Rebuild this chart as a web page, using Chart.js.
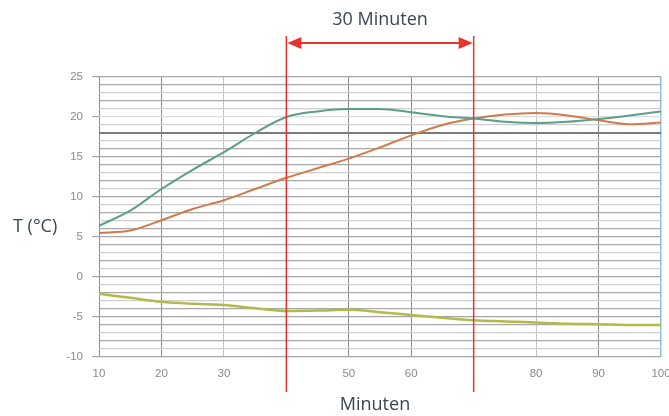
<!DOCTYPE html>
<html>
<head>
<meta charset="utf-8">
<script src="https://cdn.jsdelivr.net/npm/chart.js@4/dist/chart.umd.min.js"></script>
<style>
  html, body { margin: 0; padding: 0; background: #fff; }
  #wrap { width: 669px; height: 416px; position: relative; }
</style>
</head>
<body>
<div id="wrap"><canvas id="chart"></canvas></div>
<script>
// minutes on the x axis, temperature curves
const minutes = [10, 15, 20, 25, 30, 35, 40, 45, 50, 55, 60, 65, 70, 75, 80, 85, 90, 95, 100];
const tempGreen  = [6.4, 8.3, 11.0, 13.4, 15.6, 18.0, 20.0, 20.7, 21.0, 21.0, 20.6, 20.1, 19.8, 19.4, 19.25, 19.4, 19.75, 20.2, 20.7];
const tempOrange = [5.5, 5.8, 7.1, 8.5, 9.6, 11.0, 12.4, 13.6, 14.8, 16.2, 17.7, 19.0, 19.8, 20.3, 20.5, 20.2, 19.6, 19.1, 19.3];
const tempOlive  = [-2.1, -2.6, -3.1, -3.35, -3.5, -3.9, -4.25, -4.2, -4.1, -4.4, -4.75, -5.1, -5.4, -5.55, -5.7, -5.85, -5.9, -6.0, -6.0];
const xTickLabels = [10, 20, 30, 50, 60, 80, 90, 100];
const yTickLabels = [-10, -5, 0, 5, 10, 15, 20, 25];
const markerMinutes = [40, 70];
const markerText = "30 Minuten";

const toPoints = vals => vals.map((v, i) => ({ x: minutes[i], y: v }));

// red markers, arrow and free text
const annotations = {
  id: "annotations",
  afterDraw(chart) {
    const ctx = chart.ctx;
    const xs = chart.scales.x;
    const a = xs.getPixelForValue(markerMinutes[0]);
    const b = xs.getPixelForValue(markerMinutes[1]);
    ctx.save();
    ctx.strokeStyle = "#e8342b";
    ctx.fillStyle = "#e8342b";
    ctx.lineWidth = 1.5;
    [a, b].forEach(px => {
      ctx.beginPath();
      ctx.moveTo(px, 36);
      ctx.lineTo(px, 392);
      ctx.stroke();
    });
    // double arrow
    const ay = 43;
    ctx.lineWidth = 2;
    ctx.beginPath();
    ctx.moveTo(a + 10, ay);
    ctx.lineTo(b - 10, ay);
    ctx.stroke();
    ctx.beginPath();
    ctx.moveTo(a + 1, ay); ctx.lineTo(a + 15, ay - 6); ctx.lineTo(a + 15, ay + 6); ctx.closePath();
    ctx.fill();
    ctx.beginPath();
    ctx.moveTo(b - 1, ay); ctx.lineTo(b - 15, ay - 6); ctx.lineTo(b - 15, ay + 6); ctx.closePath();
    ctx.fill();

    ctx.fillStyle = "#3b4651";
    ctx.font = "18px 'Open Sans'";
    ctx.textAlign = "center";
    ctx.textBaseline = "middle";
    ctx.fillText(markerText, (a + b) / 2, 20);
    ctx.fillText("Minuten", 375, 405);
    ctx.textAlign = "left";
    ctx.fillText("T (°C)", 13, 227);
    ctx.restore();
  }
};

new Chart(document.getElementById("chart"), {
  type: "line",
  data: {
    datasets: [
      { data: toPoints(tempGreen), borderColor: "#5c9e8b", borderWidth: 2 },
      { data: toPoints(tempOrange), borderColor: "#cf7b4b", borderWidth: 2 },
      { data: toPoints(tempOlive), borderColor: "#b3b94a", borderWidth: 2.5 }
    ]
  },
  options: {
    responsive: true,
    maintainAspectRatio: false,
    animation: false,
    layout: { padding: { top: 77, right: 8, left: 0, bottom: 0 } },
    elements: {
      point: { radius: 0 },
      line: { tension: 0.4, cubicInterpolationMode: "monotone" }
    },
    plugins: { legend: { display: false }, tooltip: { enabled: false } },
    scales: {
      x: {
        type: "linear",
        min: 10,
        max: 100,
        afterBuildTicks: s => { s.ticks = minutes.filter(m => m % 10 === 0).map(v => ({ value: v })); },
        afterFit: s => { s.height = 416 - 357; s.paddingLeft = 0; s.paddingRight = 0; },
        border: { display: false },
        grid: {
          drawTicks: false,
          color: c => {
            const v = c.tick && c.tick.value;
            if (v === 100) return "#8fbfdc";
            if (v === 30 || v === 80) return "#c4c4c4";
            return "#8c8c8c";
          },
          lineWidth: c => (c.tick && c.tick.value === 100 ? 1.5 : 1)
        },
        ticks: {
          padding: 10,
          color: "#8a8a8a",
          font: { family: "Liberation Sans", size: 11.5 },
          callback: v => (xTickLabels.includes(v) ? String(v) : "")
        }
      },
      y: {
        min: -10,
        max: 25,
        afterFit: s => { s.width = 99; s.paddingTop = 0; s.paddingBottom = 0; },
        border: { display: false },
        grid: {
          tickLength: 7,
          color: c => {
            const v = c.tick && c.tick.value;
            if (v === 18) return "#7a7a7a";
            if (v === 20) return "#dddddd";
            if (yTickLabels.includes(v)) return "#a6a6a6";
            return v % 2 === 0 ? "#a9a9a9" : "#cfcfcf";
          },
          lineWidth: c => (c.tick && c.tick.value === 18 ? 2 : 1.2),
          tickColor: c => (c.tick && yTickLabels.includes(c.tick.value) ? "#a6a6a6" : "rgba(0,0,0,0)")
        },
        ticks: {
          stepSize: 1,
          autoSkip: false,
          padding: 9,
          color: "#8a8a8a",
          font: { family: "Liberation Sans", size: 11.5 },
          callback: v => (yTickLabels.includes(v) ? String(v) : "")
        }
      }
    }
  },
  plugins: [annotations]
});
</script>
</body>
</html>
